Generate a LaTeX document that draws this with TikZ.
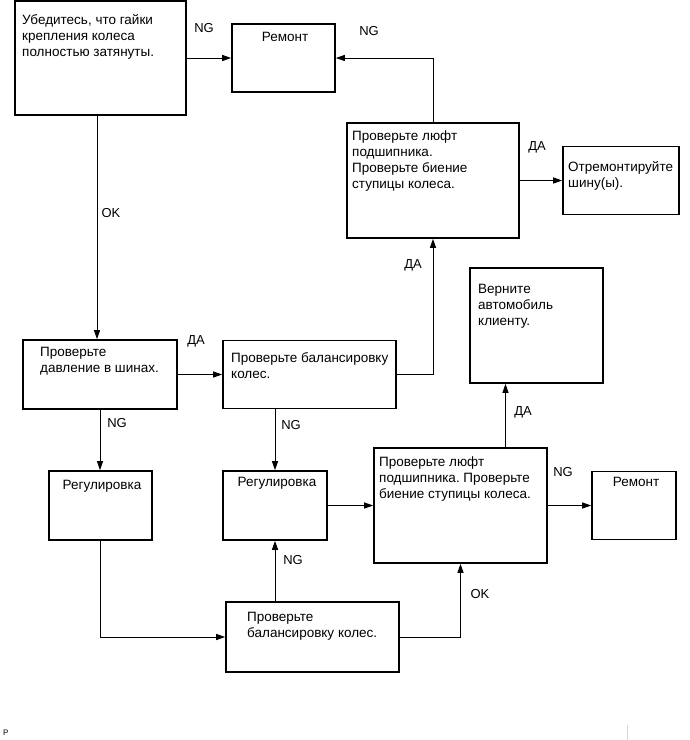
\documentclass[tikz,border=0pt]{standalone}
\usepackage{fontspec}
\setmainfont{Liberation Sans}
\usetikzlibrary{arrows.meta, positioning, calc}
\frenchspacing

\begin{document}
\begin{tikzpicture}[x=1pt, y=-1pt,
  box/.style={draw, line width=1.6pt, inner sep=0pt},
  txt/.style={anchor=north west, inner sep=0pt, align=left, font=\fontsize{13.5}{16}\selectfont},
  ttl/.style={anchor=north, inner sep=0pt, font=\fontsize{13.5}{16}\selectfont},
  lbl/.style={inner sep=0pt, font=\fontsize{13}{15}\selectfont},
  arr/.style={line width=1pt, -{Triangle[length=9pt, width=6pt]}}]
  \useasboundingbox[fill=white] (0,0) rectangle (690,740);

  \node[box, minimum width=171, minimum height=114] (chk) at (100.5,58) {};
  \node[box, minimum width=103, minimum height=68] (rep1) at (283.5,58) {};
  \node[box, minimum width=172, minimum height=115] (brg1) at (433,180.5) {};
  \node[box, minimum width=116, minimum height=68] (tire) at (621,180.5) {};
  \node[box, minimum width=154, minimum height=69] (pres) at (100,374.5) {};
  \node[box, minimum width=173, minimum height=68] (bal1) at (309.5,374.5) {};
  \node[box, minimum width=103, minimum height=69] (adj1) at (100.5,505.5) {};
  \node[box, minimum width=104, minimum height=69] (adj2) at (275,505.5) {};
  \node[box, minimum width=173, minimum height=115] (brg2) at (460.5,505.5) {};
  \node[box, minimum width=84, minimum height=68] (rep2) at (634,505.5) {};
  \node[box, minimum width=133, minimum height=115] (ret) at (536.5,325.5) {};
  \node[box, minimum width=173, minimum height=70] (bal2) at (312.5,637) {};

  \node[txt] (chk-t) at (22,14) {Убедитесь, что гайки\\крепления колеса\\полностью затянуты.};
  \node[ttl] (rep1-t) at (285,32) {Ремонт};
  \node[txt] (brg1-t) at (352,131) {Проверьте люфт\\подшипника.\\Проверьте биение\\ступицы колеса.};
  \node[txt] (tire-t) at (568,161) {Отремонтируйте\\шину(ы).};
  \node[txt] (pres-t) at (40,347) {Проверьте\\давление в шинах.};
  \node[txt] (bal1-t) at (231,352) {Проверьте балансировку\\колес.};
  \node[ttl] (adj1-t) at (102,480) {Регулировка};
  \node[ttl] (adj2-t) at (277,477) {Регулировка};
  \node[txt] (brg2-t) at (379,457) {Проверьте люфт\\подшипника. Проверьте\\биение ступицы колеса.};
  \node[ttl] (rep2-t) at (636,477) {Ремонт};
  \node[txt] (ret-t) at (478,284) {Верните\\автомобиль\\клиенту.};
  \node[txt] (bal2-t) at (247,612) {Проверьте\\балансировку колес.};

  \draw[arr] (chk.east) -- (rep1.west);
  \draw[arr] (brg1.north) |- (rep1.east);
  \draw[arr] (brg1.east) -- (tire.west);
  \draw[arr] ([xshift=-3]pres.north |- chk.south) -- ([xshift=-3]pres.north);
  \draw[arr] (pres.east) -- (bal1.west);
  \draw[arr] (bal1.east) -| (brg1.south);
  \draw[arr] (pres.south) -- (pres.south |- adj1.north);
  \draw[arr] (adj2.north |- bal1.south) -- (adj2.north);
  \draw[arr] (adj2.east) -- (adj2.east -| brg2.west);
  \draw[arr] (brg2.east) -- (rep2.west);
  \draw[arr] ([xshift=45]brg2.north) -- ([xshift=45]brg2.north |- ret.south);
  \draw[arr] (adj1.south) |- (bal2.west);
  \draw[arr] (adj2.south |- bal2.north) -- (adj2.south);
  \draw[arr] (bal2.east) -| (brg2.south);

  \node[lbl] (l-ng1) at (204,28) {NG};
  \node[lbl] (l-ng2) at (369,31) {NG};
  \node[lbl] (l-da1) at (537,147) {ДА};
  \node[lbl] (l-ok1) at (111,213) {OK};
  \node[lbl] (l-da2) at (196,341) {ДА};
  \node[lbl] (l-da3) at (413,265) {ДА};
  \node[lbl] (l-ng3) at (117,423) {NG};
  \node[lbl] (l-ng4) at (291,425) {NG};
  \node[lbl] (l-ng5) at (293,560) {NG};
  \node[lbl] (l-ok2) at (480,594) {OK};
  \node[lbl] (l-da4) at (523,412) {ДА};
  \node[lbl] (l-ng6) at (563,472) {NG};

  \node[inner sep=0pt, anchor=west, font=\fontsize{8}{9}\selectfont] (mark) at (3,733) {P};
  \draw[black!15, line width=0.8pt] (627,725) -- (627,740);
\end{tikzpicture}
\end{document}
